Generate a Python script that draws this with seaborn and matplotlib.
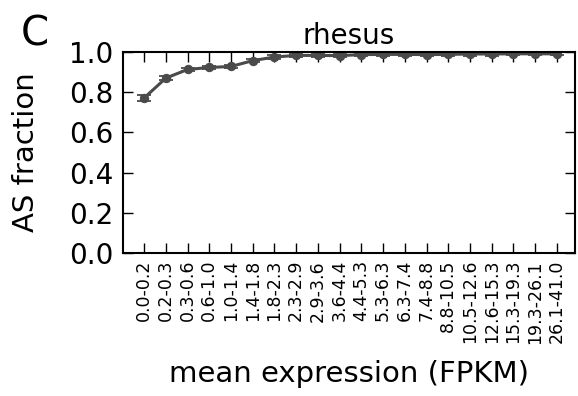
import matplotlib
matplotlib.use("Agg")
import matplotlib.pyplot as plt
import numpy as np
import pandas as pd
import seaborn as sns

# Expression bins (FPKM) and allele-specific fraction per bin
bins = ["0.0-0.2", "0.2-0.3", "0.3-0.6", "0.6-1.0", "1.0-1.4", "1.4-1.8",
        "1.8-2.3", "2.3-2.9", "2.9-3.6", "3.6-4.4", "4.4-5.3", "5.3-6.3",
        "6.3-7.4", "7.4-8.8", "8.8-10.5", "10.5-12.6", "12.6-15.3",
        "15.3-19.3", "19.3-26.1", "26.1-41.0"]
as_fraction = [0.771, 0.870, 0.913, 0.923, 0.928, 0.957, 0.975, 0.983,
               0.983, 0.982, 0.987, 0.988, 0.988, 0.987, 0.988, 0.990,
               0.990, 0.991, 0.991, 0.991]
as_err = [0.013, 0.010, 0.008, 0.009, 0.008, 0.008, 0.008, 0.008, 0.008,
          0.008, 0.008, 0.008, 0.008, 0.008, 0.008, 0.008, 0.008, 0.008,
          0.008, 0.008]
y_ticks = [0.0, 0.2, 0.4, 0.6, 0.8, 1.0]

sns.set_style("ticks")
plt.rcParams["font.family"] = ["DejaVu Sans"]
plt.rcParams.update({"text.color": "black", "axes.labelcolor": "black",
                     "xtick.color": "black", "ytick.color": "black",
                     "axes.edgecolor": "black"})

df = pd.DataFrame({"pos": np.arange(len(bins)), "frac": as_fraction, "err": as_err})

fig = plt.figure(figsize=(5.78, 3.96), dpi=100)
ax = fig.add_axes([0.2128, 0.3611, 0.7820, 0.5076])

color = "#4a4a4a"
sns.lineplot(data=df, x="pos", y="frac", ax=ax, color=color, linewidth=2.2,
             marker="o", markersize=6, markeredgecolor=color)
ax.errorbar(df["pos"], df["frac"], yerr=df["err"], fmt="none", ecolor=color,
            elinewidth=1.3, capsize=5, capthick=1.3)

ax.set_xlim(-0.97, 19.83)
ax.set_ylim(0, 1.0)
ax.set_xticks(df["pos"])
ax.set_xticklabels(bins, rotation=90, fontsize=12.5)
ax.set_yticks(y_ticks)
ax.set_yticklabels([f"{v:.1f}" for v in y_ticks], fontsize=20)

ax.tick_params(axis="both", direction="in", length=7, width=1,
               top=True, right=True)
ax.tick_params(axis="x", pad=5)
ax.tick_params(axis="y", pad=7)
for s in ax.spines.values():
    s.set_linewidth(1.5)

ax.set_xlabel("mean expression (FPKM)", fontsize=21, labelpad=12)
ax.set_ylabel("AS fraction", fontsize=21, labelpad=21)
ax.set_title("rhesus", fontsize=20, pad=6)
fig.text(0.036, 0.886, "C", fontsize=29, ha="left", va="baseline")

fig.savefig("out.png", dpi=100)
